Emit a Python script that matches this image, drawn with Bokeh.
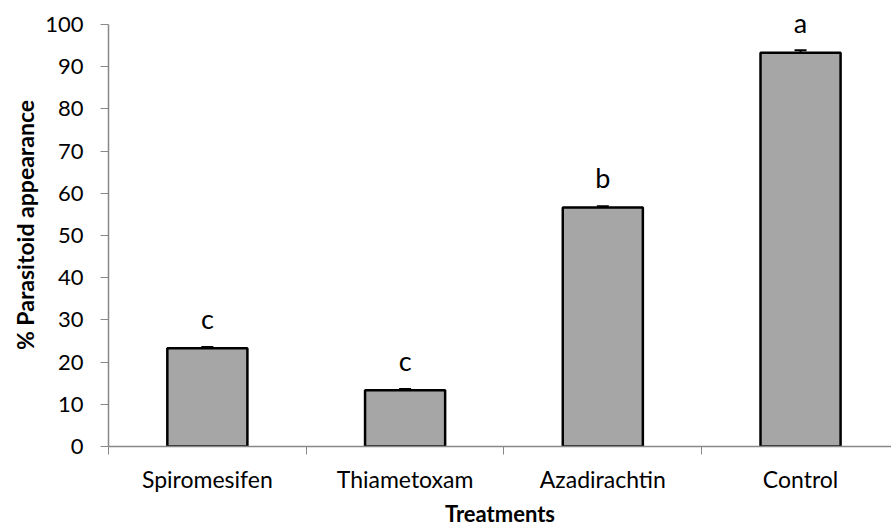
from bokeh.plotting import figure
from bokeh.models import Range1d, FixedTicker, ColumnDataSource, Whisker, TeeHead
from bokeh.core.properties import value
from bokeh.embed import file_html
from bokeh.resources import INLINE

categories = ["Spiromesifen", "Thiametoxam", "Azadirachtin", "Control"]
values = [23.3, 13.3, 56.6, 93.3]
errors = [0.3, 0.3, 0.3, 0.6]
letters = ["c", "c", "b", "a"]
y_ticks = list(range(0, 101, 10))

FONT = "Lato"
AXIS_GRAY = "#888888"

xs = [i + 0.5 for i in range(len(categories))]
src = ColumnDataSource(dict(
    x=xs, top=values,
    upper=[v + e for v, e in zip(values, errors)],
    lower=[v - e for v, e in zip(values, errors)],
    letter=letters,
))

p = figure(width=891, height=529, output_backend="svg", toolbar_location=None,
           x_range=Range1d(0, 3.96), y_range=Range1d(0, 104.95),
           min_border_left=108, min_border_right=0, min_border_top=3,
           min_border_bottom=81)
p.outline_line_color = None
p.grid.visible = False
p.background_fill_color = "white"
p.border_fill_color = "white"

p.vbar(x="x", top="top", bottom=0, width=0.405, source=src,
       fill_color="#a6a6a6", line_color="black", line_width=2.5)

w = Whisker(base="x", upper="upper", lower="lower", source=src,
            line_color="black", line_width=2,
            upper_head=TeeHead(size=12, line_color="black", line_width=2),
            lower_head=TeeHead(size=12, line_color="black", line_width=2))
p.add_layout(w)

p.text(x="x", y="top", text="letter", source=src, text_align="center",
       text_baseline="alphabetic", y_offset=-30, text_font=value(FONT),
       text_font_size="27px", text_color="black")

# x axis
xa = p.xaxis[0]
xa.ticker = FixedTicker(ticks=xs, minor_ticks=list(range(len(categories) + 1)))
xa.major_label_overrides = {x: c for x, c in zip(xs, categories)}
xa.major_tick_line_color = None
xa.minor_tick_in = 0
xa.minor_tick_out = 8
xa.minor_tick_line_color = AXIS_GRAY
xa.axis_line_color = AXIS_GRAY
xa.axis_line_width = 1.5
xa.major_label_text_font = FONT
xa.major_label_text_font_size = "23px"
xa.major_label_text_color = "black"
xa.major_label_standoff = 10
xa.axis_label = "Treatments"
xa.axis_label_text_font = FONT
xa.axis_label_text_font_style = "bold"
xa.axis_label_text_font_size = "22px"
xa.axis_label_text_color = "black"
xa.axis_label_standoff = 4

# y axis
ya = p.yaxis[0]
ya.ticker = FixedTicker(ticks=y_ticks)
ya.bounds = (0, 100)
ya.major_tick_in = 0
ya.major_tick_out = 8
ya.minor_tick_line_color = None
ya.major_tick_line_color = AXIS_GRAY
ya.axis_line_color = AXIS_GRAY
ya.axis_line_width = 1.5
ya.major_label_text_font = FONT
ya.major_label_text_font_size = "22px"
ya.major_label_text_color = "black"
ya.major_label_standoff = 17
ya.axis_label = "% Parasitoid appearance"
ya.axis_label_text_font = FONT
ya.axis_label_text_font_style = "bold"
ya.axis_label_text_font_size = "23px"
ya.axis_label_text_color = "black"
ya.axis_label_standoff = 3

open("out.html", "w").write(file_html(p, INLINE))
